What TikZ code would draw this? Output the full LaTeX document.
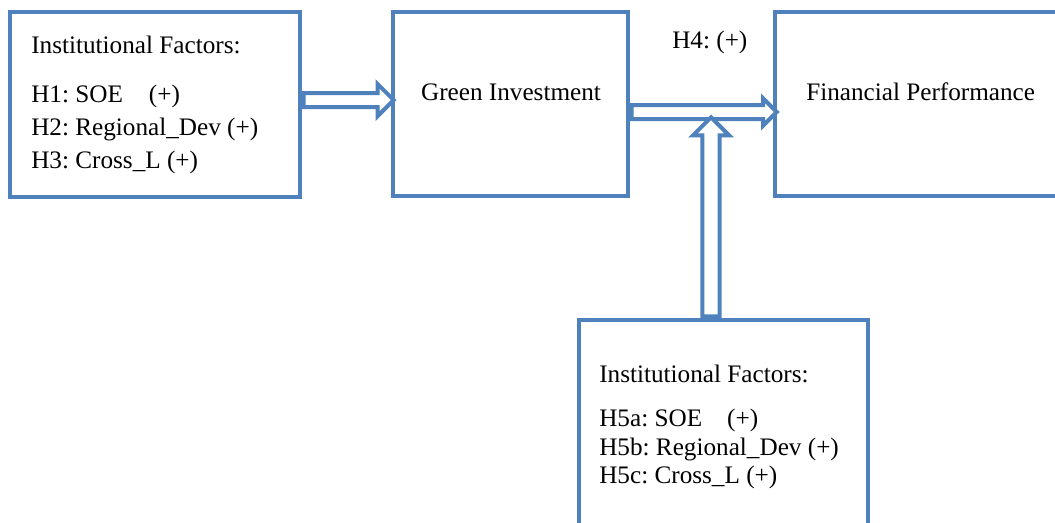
\documentclass[tikz,border=0pt]{standalone}
\usepackage{fontspec}
\setmainfont{Liberation Serif}
\usetikzlibrary{shapes.arrows}
\definecolor{boxblue}{RGB}{79,129,189}
\frenchspacing

\begin{document}
\begin{tikzpicture}[x=0.75pt,y=-0.75pt,
    box_node/.style={draw=boxblue,line width=2.5pt,inner sep=0pt},
    txt_node/.style={anchor=base west,inner sep=0pt,font=\fontsize{18.9}{22}\selectfont},
    hollow_arrow/.style={single arrow,draw=boxblue,fill=white,line width=3pt,inner sep=0pt,anchor=tail}]

    \useasboundingbox (0,0) rectangle (1055,522);

    \node[box_node,minimum width=217.5pt,minimum height=138.75pt] (inst) at (155,104.5) {};
    \node[box_node,minimum width=176.25pt,minimum height=138pt] (gi) at (510.5,104) {};
    \node[box_node,minimum width=217.5pt,minimum height=138pt] (fp) at (920,104) {};
    \node[box_node,minimum width=216.75pt,minimum height=165pt] (mod) at (723.5,430) {};

    \node[txt_node] (inst0) at (31,53) {Institutional Factors:};
    \node[txt_node] (inst1) at (31,102) {H1: SOE\hspace{19.5pt}(+)};
    \node[txt_node] (inst2) at (31,135) {H2: Regional\_Dev (+)};
    \node[txt_node] (inst3) at (31,168) {H3: Cross\_L (+)};

    \node[txt_node,anchor=base] (gitxt) at (511,100) {Green Investment};
    \node[txt_node] (fptxt) at (806,100) {Financial Performance};
    \node[txt_node] (h4) at (672,48) {H4: (+)};

    \node[txt_node] (mod0) at (599,382) {Institutional Factors:};
    \node[txt_node] (mod1) at (599,426) {H5a: SOE\hspace{18.75pt}(+)};
    \node[txt_node] (mod2) at (599,455) {H5b: Regional\_Dev (+)};
    \node[txt_node] (mod3) at (599,483) {H5c: Cross\_L (+)};

    % hollow arrows
    \node[hollow_arrow,minimum height=67.5pt,inner ysep=3.75pt,single arrow head extend=6.75pt] (ar1) at (inst.east |- 0,100) {};
    \node[hollow_arrow,minimum height=108.75pt,inner ysep=3.75pt,single arrow head extend=4.9pt] (ar2) at (gi.east |- 0,112) {};
    \node[hollow_arrow,rotate=90,minimum height=149.25pt,inner ysep=4.9pt,single arrow head extend=7.1pt] (ar3) at (mod.north -| 711,0) {};
\end{tikzpicture}
\end{document}
